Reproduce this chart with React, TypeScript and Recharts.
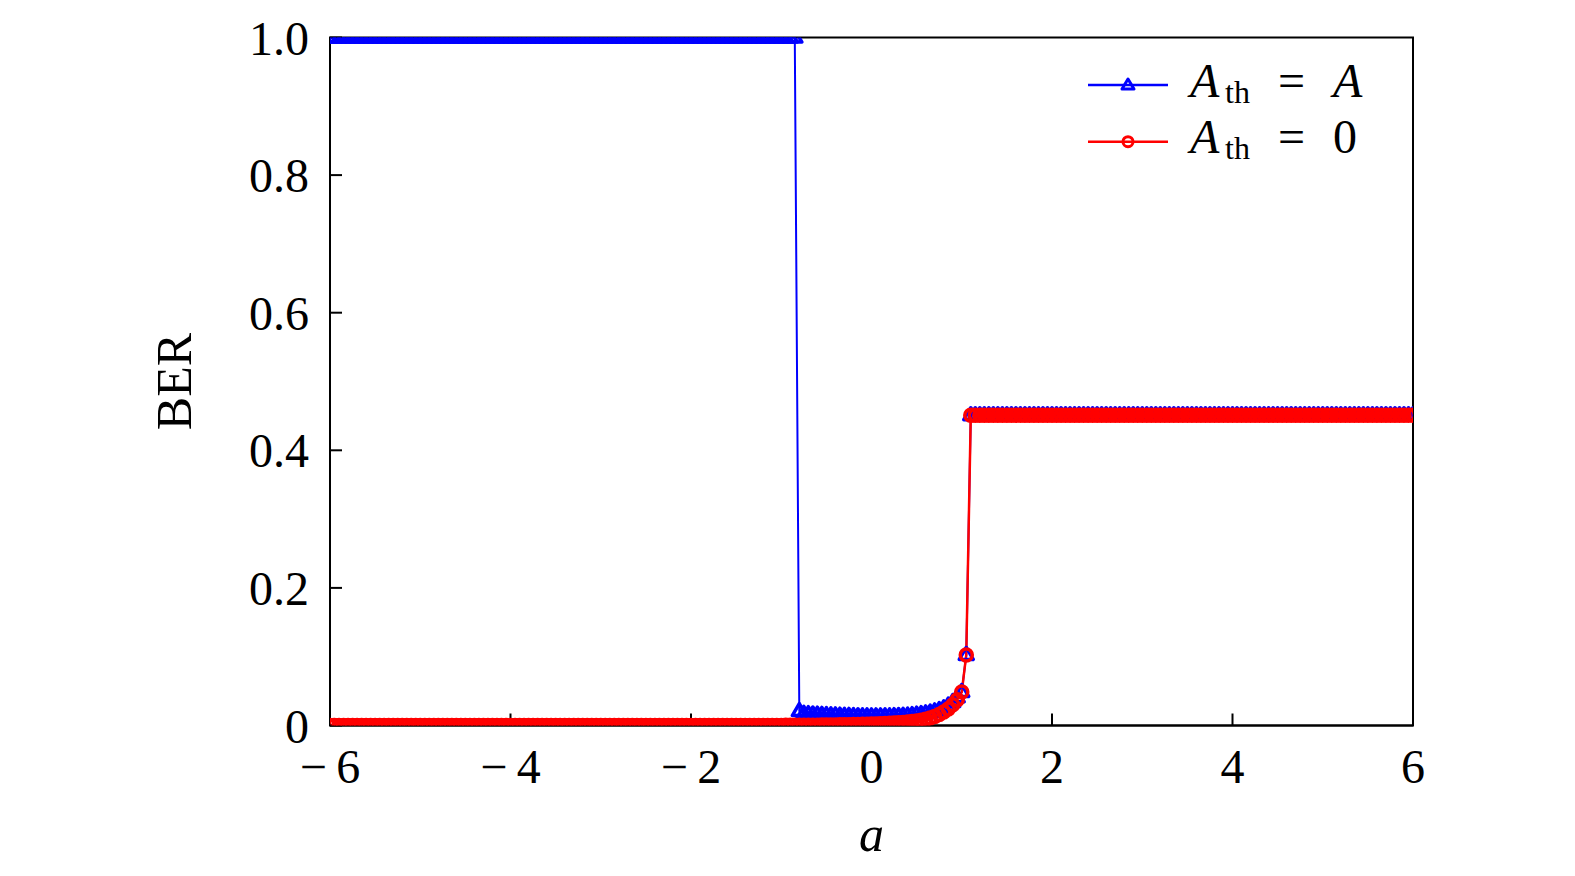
import React from 'react';
import { LineChart, Line, XAxis, YAxis, ReferenceArea, Legend } from 'recharts';

// sampling grid of the parameter a (step 0.05 from -6 to 6)
const aValues = Array.from({ length: 241 }, (_, i) => Math.round((-6 + i * 0.05) * 100) / 100);

// BER for A_th = A
const berThA = [
  1, 1, 1, 1, 1, 1, 1, 1, 1, 1, 1, 1, 1, 1, 1, 1, 1, 1, 1, 1,
  1, 1, 1, 1, 1, 1, 1, 1, 1, 1, 1, 1, 1, 1, 1, 1, 1, 1, 1, 1,
  1, 1, 1, 1, 1, 1, 1, 1, 1, 1, 1, 1, 1, 1, 1, 1, 1, 1, 1, 1,
  1, 1, 1, 1, 1, 1, 1, 1, 1, 1, 1, 1, 1, 1, 1, 1, 1, 1, 1, 1,
  1, 1, 1, 1, 1, 1, 1, 1, 1, 1, 1, 1, 1, 1, 1, 1, 1, 1, 1, 1,
  1, 1, 1, 1,
  0.021, 0.017, 0.0165, 0.016, 0.0157, 0.0154, 0.0151, 0.0148, 0.0146, 0.0143,
  0.0141, 0.0139, 0.0137, 0.0135, 0.0134, 0.0133, 0.0132, 0.0132, 0.0132, 0.0133,
  0.0134, 0.0136, 0.0138, 0.0141, 0.0145, 0.015, 0.0157, 0.0165, 0.0175, 0.0188,
  0.0205, 0.0225, 0.025, 0.029, 0.034, 0.041, 0.0487, 0.1025,
  0.451, 0.451, 0.451, 0.451, 0.451, 0.451, 0.451, 0.451, 0.451, 0.451,
  0.451, 0.451, 0.451, 0.451, 0.451, 0.451, 0.451, 0.451, 0.451, 0.451,
  0.451, 0.451, 0.451, 0.451, 0.451, 0.451, 0.451, 0.451, 0.451, 0.451,
  0.451, 0.451, 0.451, 0.451, 0.451, 0.451, 0.451, 0.451, 0.451, 0.451,
  0.451, 0.451, 0.451, 0.451, 0.451, 0.451, 0.451, 0.451, 0.451, 0.451,
  0.451, 0.451, 0.451, 0.451, 0.451, 0.451, 0.451, 0.451, 0.451, 0.451,
  0.451, 0.451, 0.451, 0.451, 0.451, 0.451, 0.451, 0.451, 0.451, 0.451,
  0.451, 0.451, 0.451, 0.451, 0.451, 0.451, 0.451, 0.451, 0.451, 0.451,
  0.451, 0.451, 0.451, 0.451, 0.451, 0.451, 0.451, 0.451, 0.451, 0.451,
  0.451, 0.451, 0.451, 0.451, 0.451, 0.451, 0.451, 0.451, 0.451,
];

// BER for A_th = 0
const berTh0 = [
  0, 0, 0, 0, 0, 0, 0, 0, 0, 0, 0, 0, 0, 0, 0, 0, 0, 0, 0, 0,
  0, 0, 0, 0, 0, 0, 0, 0, 0, 0, 0, 0, 0, 0, 0, 0, 0, 0, 0, 0,
  0, 0, 0, 0, 0, 0, 0, 0, 0, 0, 0, 0, 0, 0, 0, 0, 0, 0, 0, 0,
  0, 0, 0, 0, 0, 0, 0, 0, 0, 0, 0, 0, 0, 0, 0, 0, 0, 0, 0, 0,
  0, 0, 0, 0, 0, 0, 0, 0, 0, 0, 0, 0, 0, 0, 0, 0, 0, 0, 0, 0,
  0,
  0.0002, 0.0002, 0.0003, 0.0003, 0.0004, 0.0004, 0.0005, 0.0005, 0.0006, 0.0007,
  0.0008, 0.0009, 0.001, 0.0011, 0.0012, 0.0014, 0.0015, 0.0017, 0.0019, 0.0021,
  0.0023, 0.0026, 0.0029, 0.0032, 0.0036, 0.004, 0.0045, 0.0051, 0.0058, 0.0067,
  0.0078, 0.0092, 0.011, 0.0132, 0.016, 0.0195, 0.024, 0.03, 0.0375, 0.0487,
  0.1025,
  0.451, 0.451, 0.451, 0.451, 0.451, 0.451, 0.451, 0.451, 0.451, 0.451,
  0.451, 0.451, 0.451, 0.451, 0.451, 0.451, 0.451, 0.451, 0.451, 0.451,
  0.451, 0.451, 0.451, 0.451, 0.451, 0.451, 0.451, 0.451, 0.451, 0.451,
  0.451, 0.451, 0.451, 0.451, 0.451, 0.451, 0.451, 0.451, 0.451, 0.451,
  0.451, 0.451, 0.451, 0.451, 0.451, 0.451, 0.451, 0.451, 0.451, 0.451,
  0.451, 0.451, 0.451, 0.451, 0.451, 0.451, 0.451, 0.451, 0.451, 0.451,
  0.451, 0.451, 0.451, 0.451, 0.451, 0.451, 0.451, 0.451, 0.451, 0.451,
  0.451, 0.451, 0.451, 0.451, 0.451, 0.451, 0.451, 0.451, 0.451, 0.451,
  0.451, 0.451, 0.451, 0.451, 0.451, 0.451, 0.451, 0.451, 0.451, 0.451,
  0.451, 0.451, 0.451, 0.451, 0.451, 0.451, 0.451, 0.451, 0.451,
];

const xTicks = [-6, -4, -2, 0, 2, 4, 6];
const yTicks = [0, 0.2, 0.4, 0.6, 0.8, 1.0];
const legendRhs = ['A', '0'];

const BLUE = '#0000ff';
const RED = '#ff0000';
const FONT = '"Liberation Serif", "DejaVu Serif", serif';

const data = aValues.map((a, i) => ({ a, thA: berThA[i], th0: berTh0[i] }));

const fmtX = (v: number) => (v < 0 ? `\u2212\u2009${Math.abs(v)}` : String(v));
const fmtY = (v: number) => (v === 0 ? '0' : v.toFixed(1));

const TriangleDot = (props: any) => {
  const { cx, cy, index } = props;
  if (cx == null || cy == null) return <g key={`t-${index}`} />;
  return (
    <path
      key={`t-${index}`}
      d={`M${cx},${cy - 7.5}L${cx + 7},${cy + 4.5}L${cx - 7},${cy + 4.5}Z`}
      fill="none"
      stroke={BLUE}
      strokeWidth={3.5}
      strokeLinejoin="round"
    />
  );
};

const CircleDot = (props: any) => {
  const { cx, cy, index } = props;
  if (cx == null || cy == null) return <g key={`c-${index}`} />;
  return <circle key={`c-${index}`} cx={cx} cy={cy} r={6} fill="none" stroke={RED} strokeWidth={3.5} />;
};

const renderLegend = () => (
  <svg width={340} height={130} style={{ display: 'block', overflow: 'visible' }}>
    {legendRhs.map((rhs, k) => {
      const color = k === 0 ? BLUE : RED;
      const ly = 45 + k * 56.7;
      const base = 56.7 + k * 56.7;
      return (
        <g key={rhs}>
          <line x1={28} x2={108} y1={ly} y2={ly} stroke={color} strokeWidth={2.5} />
          {k === 0 ? (
            <path d={`M68,${ly - 6}L74,${ly + 4}L62,${ly + 4}Z`} fill="none" stroke={color} strokeWidth={3} strokeLinejoin="round" />
          ) : (
            <circle cx={68} cy={ly} r={5} fill="none" stroke={color} strokeWidth={3} />
          )}
          <text y={base} fontFamily={FONT} fontSize={48} fill="#000">
            <tspan x={130} fontStyle="italic">A</tspan>
            <tspan x={165} y={base + 6} fontSize={32}>th</tspan>
            <tspan x={218} y={base}>=</tspan>
            <tspan x={273} fontStyle={rhs === 'A' ? 'italic' : 'normal'}>{rhs}</tspan>
          </text>
        </g>
      );
    })}
  </svg>
);

export default function App() {
  return (
    <div style={{ position: 'absolute', left: 0, top: 0, width: 1575, height: 876, background: '#fff' }}>
      <LineChart
        width={1575}
        height={876}
        data={data}
        margin={{ top: 37.5, right: 162, bottom: 90.5, left: 250 }}
      >
        <ReferenceArea x1={-6} x2={6} y1={0} y2={1} fill="none" stroke="#000" strokeWidth={2} ifOverflow="visible" />
        <XAxis
          dataKey="a"
          type="number"
          domain={[-6, 6]}
          ticks={xTicks}
          interval={0}
          allowDataOverflow
          height={60}
          tickFormatter={fmtX}
          tickSize={-12}
          tickMargin={35}
          axisLine={{ stroke: '#000', strokeWidth: 2 }}
          tickLine={{ stroke: '#000', strokeWidth: 2 }}
          tick={{ fill: '#000', fontSize: 48, fontFamily: FONT }}
          label={{ value: 'a', position: 'center', dy: 78, fill: '#000', fontSize: 50, fontFamily: FONT, fontStyle: 'italic' }}
        />
        <YAxis
          type="number"
          domain={[0, 1]}
          ticks={yTicks}
          interval={0}
          allowDataOverflow
          width={80}
          tickFormatter={fmtY}
          tickSize={-12}
          tickMargin={33}
          axisLine={{ stroke: '#000', strokeWidth: 2 }}
          tickLine={{ stroke: '#000', strokeWidth: 2 }}
          tick={{ fill: '#000', fontSize: 48, fontFamily: FONT }}
          label={{ value: 'BER', angle: -90, position: 'center', dx: -117, fill: '#000', fontSize: 50, fontFamily: FONT }}
        />
        <Legend
          layout="vertical"
          align="center"
          verticalAlign="middle"
          content={renderLegend}
          wrapperStyle={{ left: 1060, top: 40, width: 340, height: 130 }}
        />
        <Line
          dataKey="thA"
          type="linear"
          stroke={BLUE}
          strokeWidth={2}
          dot={TriangleDot}
          activeDot={false}
          isAnimationActive={false}
        />
        <Line
          dataKey="th0"
          type="linear"
          stroke={RED}
          strokeWidth={2.5}
          dot={CircleDot}
          activeDot={false}
          isAnimationActive={false}
        />
      </LineChart>
    </div>
  );
}
